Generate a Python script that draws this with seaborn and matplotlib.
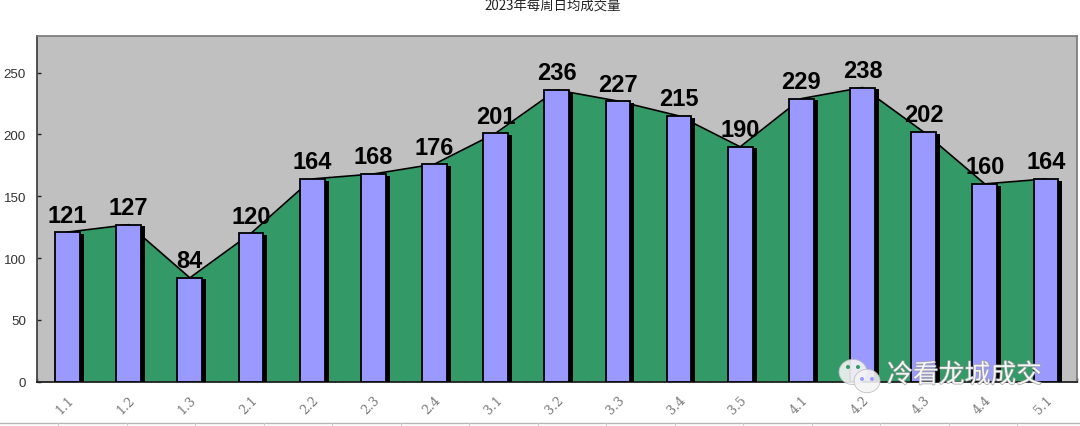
import matplotlib
matplotlib.use("Agg")
import matplotlib.pyplot as plt
import matplotlib.patheffects as pe
import matplotlib.transforms as mtrans
from matplotlib.lines import Line2D
from matplotlib.patches import Ellipse
import numpy as np
import pandas as pd
import seaborn as sns

weeks = ["1.1", "1.2", "1.3", "2.1", "2.2", "2.3", "2.4", "3.1", "3.2",
         "3.3", "3.4", "3.5", "4.1", "4.2", "4.3", "4.4", "5.1"]
volume = [121, 127, 84, 120, 164, 168, 176, 201, 236,
          227, 215, 190, 229, 238, 202, 160, 164]

W, H = 1080, 427
sns.set_theme(style="white")
plt.rcParams["font.family"] = ["Liberation Sans", "Noto Sans CJK SC"]

df = pd.DataFrame({"week": weeks, "volume": volume})
pos = np.arange(len(weeks))

fig = plt.figure(figsize=(W / 100, H / 100), dpi=100)
ax = fig.add_axes([37 / W, 1 - 382.6 / H, 1039.5 / W, 346 / H])
ax.set_facecolor("#C0C0C0")

# green area behind the bars
ax.fill_between(pos, volume, 0, color="#339966", lw=0, zorder=1)
sns.lineplot(data=df, x="week", y="volume", color="black", lw=1.2, ax=ax,
             sort=False, zorder=2)

sns.barplot(data=df, x="week", y="volume", color="#9999FF", saturation=1,
            width=0.405, edgecolor="black", linewidth=1.3, ax=ax, zorder=3)
for bar in ax.containers[0]:
    bar.set_path_effects([
        pe.SimplePatchShadow(offset=(2.9, -1.2), shadow_rgbFace="black", alpha=1),
        pe.Normal(),
    ])
ax.bar_label(ax.containers[0], fontsize=17, fontweight="bold", color="black",
             padding=4, zorder=5)

ax.set_xlim(-0.5, len(weeks) - 0.5)
ax.set_ylim(0, 280)
ax.set_yticks(range(0, 251, 50))
ax.set_xlabel("")
ax.set_ylabel("")

ax.set_xticks(pos)
ax.set_xticklabels(weeks, rotation=45, ha="right", rotation_mode="anchor",
                   family="DejaVu Serif", fontsize=9, color="#777777")
shift = mtrans.ScaledTranslation(-3.5 / 100, 1 / 100, fig.dpi_scale_trans)
for label in ax.get_xticklabels():
    label.set_transform(label.get_transform() + shift)
ax.set_xticks(np.arange(-0.5, len(weeks)), minor=True)
ax.tick_params(axis="x", which="major", length=0, pad=8)
ax.tick_params(axis="x", which="minor", direction="in", length=3, width=1,
               color="#222222", bottom=True)
ax.tick_params(axis="y", direction="in", length=3, width=1, color="#222222",
               left=True, labelsize=9.6, labelcolor="#333333", pad=8)

for side, col, lw in [("left", "#444444", 1.3), ("bottom", "#222222", 1.3),
                      ("top", "#777777", 1.2), ("right", "#777777", 1.2)]:
    ax.spines[side].set_visible(True)
    ax.spines[side].set_color(col)
    ax.spines[side].set_linewidth(lw)

fig.text(553 / W, 1 - 7 / H, "2023年每周日均成交量", ha="center", va="center",
         fontsize=9.6, color="#222222",
         family=["Noto Sans CJK SC", "Liberation Sans"])

# table rule under the chart
fig.add_artist(Line2D([0, 1], [1 - 424 / H] * 2, color="#B5B5B5", lw=1))
for x in np.arange(58, W, 68.5):
    fig.add_artist(Line2D([x / W] * 2, [1 - 424 / H, 0], color="#CCCCCC", lw=0.8))

# watermark
aspect_w, aspect_h = 1 / W, 1 / H
for cx, cy, r in [(853, 373, 14), (867, 382, 13)]:
    fig.add_artist(Ellipse((cx / W, 1 - cy / H), 2 * r * aspect_w, 1.8 * r * aspect_h,
                           transform=fig.transFigure, fc="#F4F4F4", ec="#BBBBBB",
                           lw=0.6, alpha=0.9, zorder=10))
for cx, cy, col in [(848, 368, "#339966"), (858, 368, "#339966"),
                    (862, 380, "#9999FF"), (872, 380, "#9999FF")]:
    fig.add_artist(Ellipse((cx / W, 1 - cy / H), 4 * aspect_w, 4 * aspect_h,
                           transform=fig.transFigure, fc=col, ec="none", zorder=11))
fig.text(887 / W, 1 - 376 / H, "冷看龙城成交", ha="left", va="center", fontsize=18.6,
         color="white", alpha=0.85, family=["Noto Sans CJK SC"], zorder=12,
         path_effects=[pe.withStroke(linewidth=1, foreground="#999999")])

fig.savefig("out.png", dpi=100)
